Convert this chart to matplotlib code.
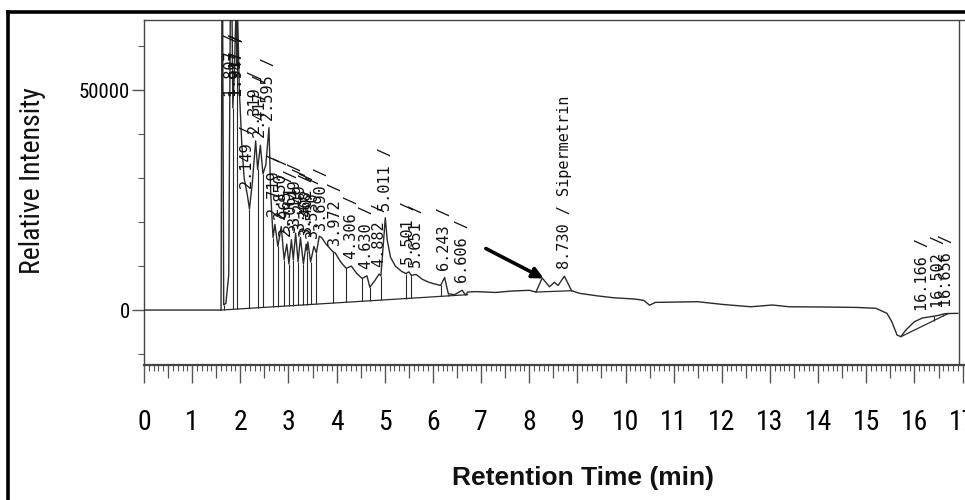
import numpy as np
import matplotlib
matplotlib.use('Agg')
import matplotlib.pyplot as plt
from matplotlib import font_manager as fm
from matplotlib.lines import Line2D
from matplotlib.ticker import MultipleLocator

# ---------------- data ----------------
signal_t = [0.00, 1.60, 1.625, 1.655, 1.70, 1.76, 1.807, 1.845, 1.88, 1.917, 1.932, 1.947,
            1.98, 2.03, 2.08, 2.149, 2.19, 2.25, 2.319, 2.36, 2.417, 2.47, 2.53, 2.595,
            2.63, 2.68, 2.719, 2.78, 2.850, 2.91, 2.965, 3.01, 3.061, 3.10, 3.149, 3.20,
            3.249, 3.31, 3.368, 3.385, 3.402, 3.46, 3.530, 3.58, 3.64, 3.690, 3.78, 3.88,
            3.93, 3.972, 4.08, 4.20, 4.306, 4.42, 4.53, 4.630, 4.69, 4.80, 4.882, 4.92,
            4.97, 5.011, 5.05, 5.12, 5.22, 5.35, 5.44, 5.501, 5.55, 5.651, 5.78, 5.92,
            6.05, 6.16, 6.243, 6.32, 6.45, 6.606, 6.68, 6.72, 6.90, 7.30, 7.60, 8.00,
            8.14, 8.27, 8.42, 8.52, 8.60, 8.730, 8.88, 9.05, 9.40, 9.75, 10.20, 10.38,
            10.50, 10.62, 11.50, 12.00, 12.60, 13.05, 13.40, 14.10, 14.80, 15.20, 15.43,
            15.53, 15.64, 15.72, 15.82, 16.00, 16.166, 16.40, 16.502, 16.60, 16.656, 16.90]
signal_v = [0, 0, 95000, 1200, 1500, 8000, 95000, 46000, 55000, 72000, 56000, 66000,
            50000, 38000, 30000, 26000, 23000, 29000, 38500, 32000, 37500, 31000, 33000, 41500,
            27000, 16500, 19500, 14500, 19000, 11500, 15000, 10500, 16000, 11500, 17500, 11000,
            16500, 10500, 15000, 13500, 15500, 11000, 14500, 13000, 16800, 16500, 15000, 13800,
            13200, 13000, 11000, 9500, 10000, 8300, 7200, 7800, 5200, 6800, 8200, 7800,
            15000, 21000, 16000, 12000, 10000, 8800, 8300, 8700, 7900, 8100, 7000, 6300,
            5900, 5600, 7400, 3700, 3500, 4500, 3400, 4100, 4200, 4000, 4300, 4500,
            4100, 7300, 5300, 6300, 5600, 7700, 4400, 3800, 3250, 2800, 2500, 2200,
            1100, 1750, 1900, 1300, 750, 1150, 750, 700, 600, 400, -750,
            -2650, -5700, -6050, -4550, -2650, -1800, -1400, -1200, -900, -800, -750]

peak_t = [1.807, 1.917, 1.947, 2.149, 2.319, 2.417, 2.595, 2.719, 2.850, 2.965, 3.061,
          3.149, 3.249, 3.368, 3.402, 3.530, 3.690, 3.972, 4.306, 4.630, 4.882, 5.011,
          5.501, 5.651, 6.243, 6.606, 8.730, 16.166, 16.502, 16.656]
peak_labels = ['1.807 /', '1.917 /', '1.947 /', '2.149 /', '2.319 /', '2.417 /', '2.595 /',
               '2.719 /', '2.850 /', '2.965 /', '3.061 /', '3.149 /', '3.249 /', '3.368 /',
               '3.402 /', '3.530 /', '3.690 /', '3.972 /', '4.306 /', '4.630 /', '4.882 /',
               '5.011 /', '5.501 /', '5.651 /', '6.243 /', '6.606 /', '8.730 / Sipermetrin',
               '16.166 /', '16.502 /', '16.656 /']

valley_t = [1.655, 1.845, 1.932, 2.19, 2.36, 2.47, 2.68, 2.78, 2.91, 3.01, 3.10, 3.20,
            3.31, 3.385, 3.46, 3.58, 3.93, 4.20, 4.53, 4.69, 4.92, 5.44, 5.55, 6.16, 6.32, 6.68]

base1_t, base1_v = [1.60, 6.72], [0, 3500]
base2_t, base2_v = [8.14, 8.88], [4100, 4400]
base3_t, base3_v = [15.72, 16.70], [-6050, -800]
end_drop_t = [16.40, 16.60]

x_ticks = list(range(0, 18))
y_ticks = [0, 50000]
y_tick_labels = ['0', '50000']
arrow_tail = (7.10, 14000)
arrow_head = (8.30, 7200)

# ---------------- fonts ----------------
names = {f.name for f in fm.fontManager.ttflist}
narrow = next((n for n in ['Liberation Sans Narrow', 'Arial Narrow', 'Roboto Condensed']
               if n in names), 'Liberation Sans')
mono = 'DejaVu Sans Mono'

# ---------------- figure ----------------
W, H = 965, 500
fig = plt.figure(figsize=(W / 100, H / 100), dpi=100)
ax = fig.add_axes([144 / W, 135 / H, (W - 144) / W, 345 / H])

line_c = '#2a2a2a'
ax.plot(signal_t, signal_v, color=line_c, lw=1.0, zorder=3)
ax.plot(base1_t, base1_v, color=line_c, lw=0.9)
ax.plot(base2_t, base2_v, color=line_c, lw=0.9)
ax.plot(base3_t, base3_v, color=line_c, lw=0.9)

for t in valley_t:
    ax.vlines(t, np.interp(t, base1_t, base1_v), np.interp(t, signal_t, signal_v),
              color=line_c, lw=0.8)
for t in end_drop_t:
    ax.vlines(t, np.interp(t, base3_t, base3_v), np.interp(t, signal_t, signal_v),
              color=line_c, lw=0.8)

for t, lab in zip(peak_t, peak_labels):
    v = min(np.interp(t, signal_t, signal_v), 47000)
    ax.annotate(lab, xy=(t, v), xytext=(0, 5), textcoords='offset points',
                rotation=90, ha='center', va='bottom', fontsize=11,
                family=mono, color='#111111', zorder=4)

ax.annotate('', xy=arrow_head, xytext=arrow_tail,
            arrowprops=dict(arrowstyle='-|>', color='black', lw=2.6,
                            mutation_scale=16, shrinkA=0, shrinkB=0), zorder=5)

ax.set_xlim(0, 17.05)
ax.set_ylim(-12500, 66000)

# right border of the plotting frame
ax.axvline(16.93, color='#444444', lw=1.0)
for s in ['top', 'left', 'bottom']:
    ax.spines[s].set_color('#444444')
    ax.spines[s].set_linewidth(1.0)
ax.spines['right'].set_visible(False)
ax.spines['bottom'].set_linewidth(1.6)

ax.set_xticks(x_ticks)
ax.set_xticklabels([str(v) for v in x_ticks])
ax.xaxis.set_minor_locator(MultipleLocator(0.1))
ax.tick_params(axis='x', which='major', length=13, width=1.0, color='#555555',
               pad=19, labelsize=20)
ax.tick_params(axis='x', which='minor', length=4.5, width=0.8, color='#555555')
for lab in ax.get_xticklabels():
    lab.set_family(narrow)

sec = ax.secondary_xaxis('bottom')
sec.set_xticks([v + 0.5 for v in x_ticks[:-1]])
sec.set_xticklabels([])
sec.tick_params(length=9, width=0.9, color='#555555')
sec.spines['bottom'].set_visible(False)

ax.set_yticks(y_ticks)
ax.set_yticklabels(y_tick_labels)
ax.yaxis.set_minor_locator(MultipleLocator(10000))
ax.tick_params(axis='y', which='major', length=9, width=1.0, color='#555555',
               pad=1, labelsize=15)
ax.tick_params(axis='y', which='minor', length=4, width=0.8, color='#555555')
for lab in ax.get_yticklabels():
    lab.set_family(narrow)

fig.text(33 / W, 1 - 181 / H, 'Relative Intensity', rotation=90, ha='center', va='center',
         fontsize=20, family=narrow, color='#111111')
fig.text(583 / W, 1 - 478 / H, 'Retention Time (min)', ha='center', va='center',
         fontsize=19, family='Liberation Sans', fontweight='bold', color='#111111')

# outer black frame (top and left edges)
fig.add_artist(Line2D([8 / W, 1.0], [1 - 11.5 / H, 1 - 11.5 / H], transform=fig.transFigure,
                      color='black', lw=2.6))
fig.add_artist(Line2D([8 / W, 8 / W], [0, 1 - 11.5 / H], transform=fig.transFigure,
                      color='black', lw=2.6))

fig.savefig('out.png', dpi=100)
